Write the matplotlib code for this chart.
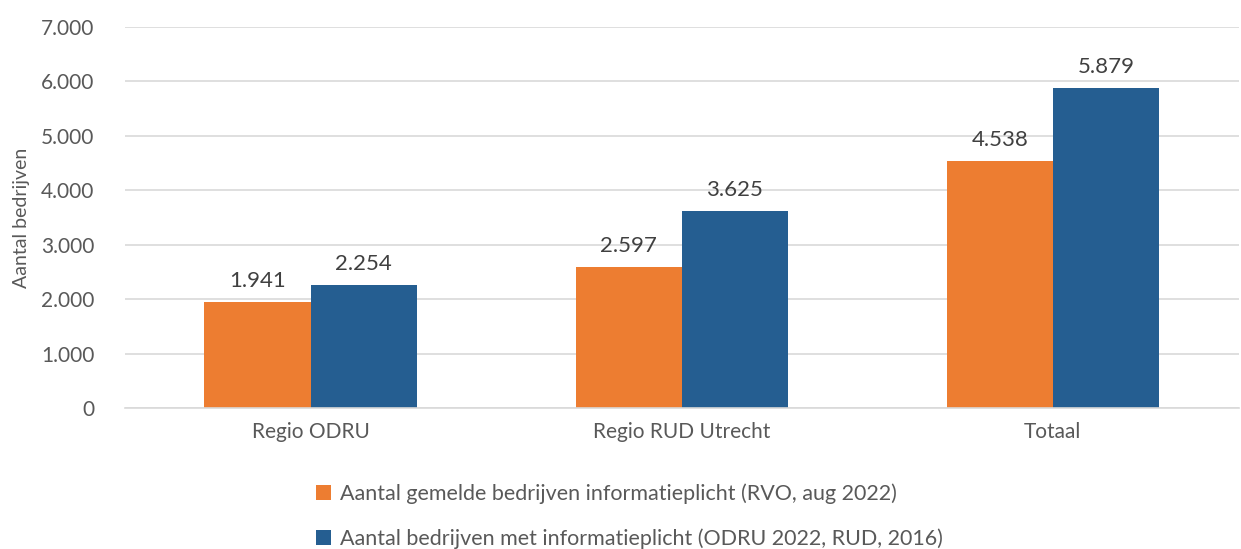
import numpy as np
import matplotlib.pyplot as plt
from matplotlib.ticker import FuncFormatter

plt.rcParams['font.family'] = ['Lato', 'DejaVu Sans']

categories = ['Regio ODRU', 'Regio RUD Utrecht', 'Totaal']
gemeld = [1941, 2597, 4538]
met_plicht = [2254, 3625, 5879]
series_names = ['Aantal gemelde bedrijven informatieplicht (RVO, aug 2022)',
                'Aantal bedrijven met informatieplicht (ODRU 2022, RUD, 2016)']

TXT = '#595959'
LBL = '#404040'

fig = plt.figure(figsize=(12.41, 5.49), dpi=100)
ax = fig.add_axes([0.1007, 0.2568, 0.8973, 0.694])

x = np.arange(len(categories))
w = 0.286
b1 = ax.bar(x - w / 2, gemeld, w, color='#ED7D31', label=series_names[0])
b2 = ax.bar(x + w / 2, met_plicht, w, color='#255E91', label=series_names[1])

# labels boven de staven
def dots(v):
    return f'{int(v):,}'.replace(',', '.')

for bars in (b1, b2):
    for r in bars:
        ax.text(r.get_x() + r.get_width() / 2, r.get_height() + 200, dots(r.get_height()),
                ha='center', va='bottom', fontsize=16, color=LBL)

ax.set_xlim(-0.5, 2.5)
ax.set_ylim(0, 7000)
ax.set_yticks(np.arange(0, 7001, 1000))
ax.yaxis.set_major_formatter(FuncFormatter(lambda v, p: dots(v)))
ax.set_xticks(x)
ax.set_xticklabels(categories)
ax.tick_params(axis='both', length=0, labelsize=15, labelcolor=TXT)
ax.tick_params(axis='y', pad=22)
ax.tick_params(axis='x', pad=10)
ax.grid(axis='y', color='#D9D9D9', linewidth=1.2)
ax.set_axisbelow(True)
for s in ['top', 'right', 'left']:
    ax.spines[s].set_visible(False)
ax.spines['bottom'].set_color('#D9D9D9')
ax.spines['bottom'].set_linewidth(1.2)
ax.set_ylabel('Aantal bedrijven', fontsize=14, color=TXT, labelpad=8)

fig.legend(loc='upper center', bbox_to_anchor=(0.507, 0.143), ncol=1, frameon=False,
           fontsize=15.5, labelcolor=TXT, handlelength=0.7, handleheight=0.7,
           handletextpad=0.4, labelspacing=1.12, borderaxespad=0.2)

fig.savefig('out.png', dpi=100)
